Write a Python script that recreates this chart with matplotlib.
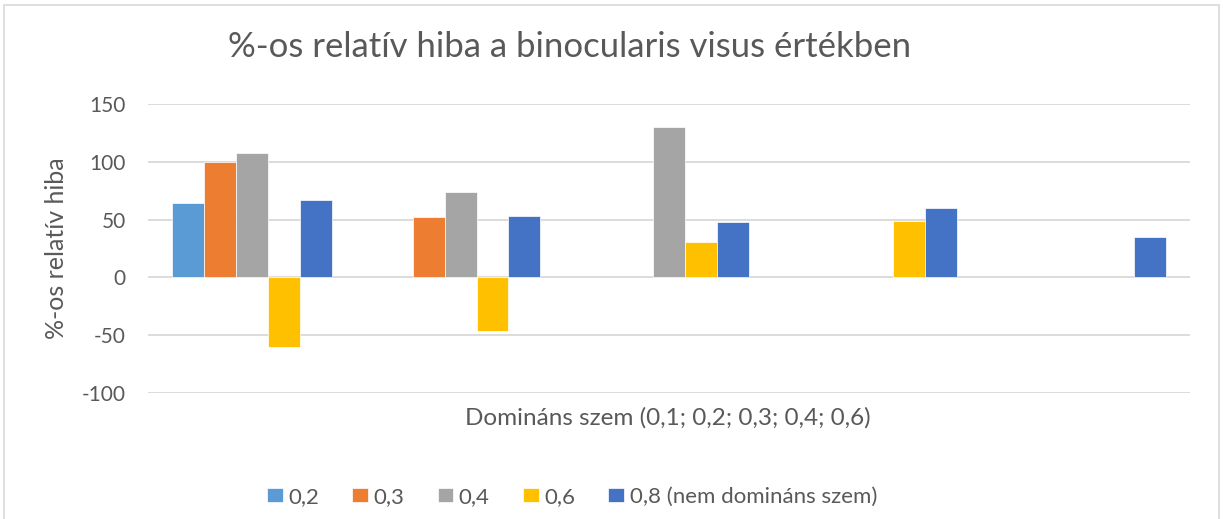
import numpy as np
import matplotlib.pyplot as plt
from matplotlib.patches import Rectangle

plt.rcParams['font.family'] = ['Lato', 'DejaVu Sans']

# --- data (nan = no bar) ---
groups = ["0,1", "0,2", "0,3", "0,4", "0,6"]
series = ["0,2", "0,3", "0,4", "0,6", "0,8 (nem domináns szem)"]
colors = ["#5b9bd5", "#ed7d31", "#a5a5a5", "#ffc000", "#4472c4"]

v_02 = [64, np.nan, np.nan, np.nan, np.nan]
v_03 = [100, 52, np.nan, np.nan, np.nan]
v_04 = [108, 74, 130, np.nan, np.nan]
v_06 = [-60, -46, 31, 49, np.nan]
v_08 = [67, 53, 48, 60, 35]
values = [v_02, v_03, v_04, v_06, v_08]

yticks = [-100, -50, 0, 50, 100, 150]

W, H = 1223, 519
fig = plt.figure(figsize=(W / 100, H / 100), dpi=100)
ax = fig.add_axes([148 / W, 1 - 393 / H, (1190 - 148) / W, (393 - 104) / H])

x = np.arange(len(groups))
w = 0.153
for j, (name, vals, c) in enumerate(zip(series, values, colors)):
    ax.bar(x + (j - 2) * w, vals, w, color=c, label=name, zorder=3,
           edgecolor="white", linewidth=0.5)

ax.set_xlim(-0.5, 4.5)
ax.set_ylim(-100, 150)
ax.set_yticks(yticks)
ax.set_yticklabels([str(t) for t in yticks], fontsize=15, color="#595959")
ax.set_xticks([])
ax.grid(axis="y", color="#d9d9d9", linewidth=1.3, zorder=0)
ax.tick_params(axis="y", length=0, pad=16)
for s in ax.spines.values():
    s.set_visible(False)

txt = "#595959"
fig.text(57 / W, 1 - 248 / H, "%-os relatív hiba", rotation=90,
         ha="center", va="center", fontsize=18, color=txt)
fig.text(668 / W, 1 - 418 / H, "Domináns szem (0,1; 0,2; 0,3; 0,4; 0,6)",
         ha="center", va="center", fontsize=17.5, color=txt)
fig.text(570 / W, 1 - 47 / H, "%-os relatív hiba a binocularis visus értékben",
         ha="center", va="center", fontsize=25, color=txt)

fig.legend(loc="center", bbox_to_anchor=(572 / W, 1 - 497 / H), ncol=5,
           frameon=False, fontsize=16, handlelength=0.7, handleheight=0.6,
           handletextpad=0.25, columnspacing=1.5, labelcolor=txt)

# outer chart border
fig.patches.append(Rectangle((4 / W, -0.05), (1219 - 4) / W, 1 - 5 / H + 0.05,
                             transform=fig.transFigure, fill=False,
                             edgecolor="#d9d9d9", linewidth=1.2))

fig.savefig("out.png", dpi=100)
